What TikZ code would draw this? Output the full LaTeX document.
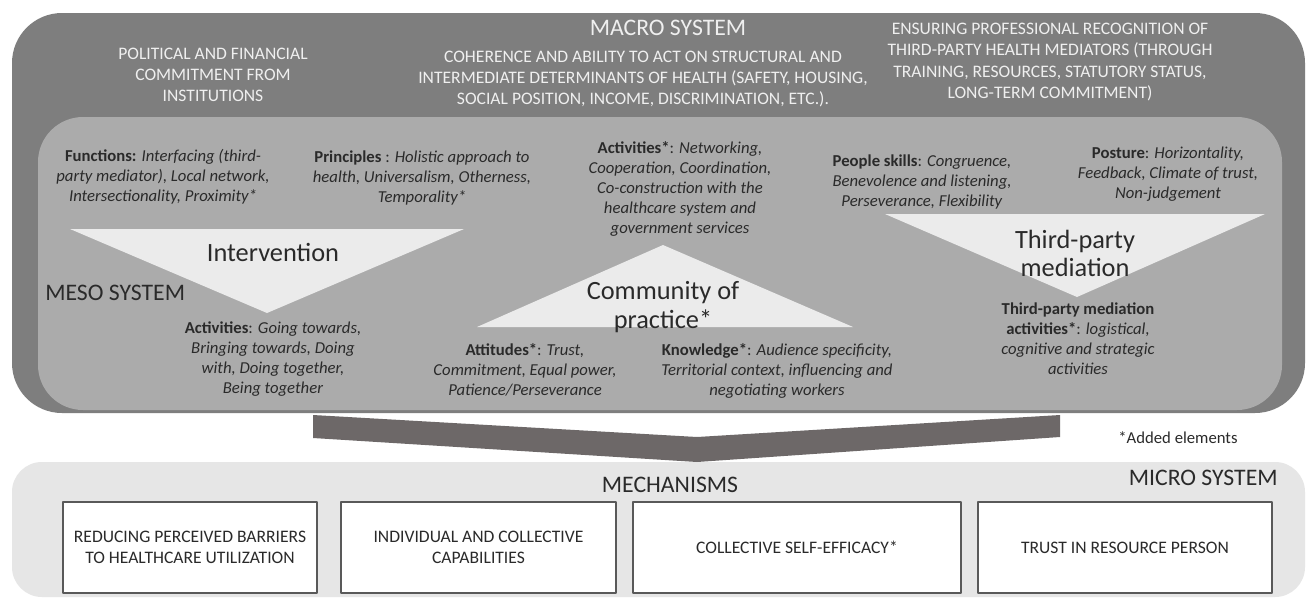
\documentclass[tikz,border=0pt]{standalone}
\usepackage{fontspec}
\setmainfont{Carlito}
\definecolor{macrogray}{HTML}{7E7E7E}
\definecolor{mesogray}{HTML}{ABABAB}
\definecolor{microgray}{HTML}{E6E6E6}
\definecolor{trigray}{HTML}{EBEBEB}
\definecolor{arrowgray}{HTML}{6D6868}
\definecolor{macrotxt}{HTML}{EFEFEF}
\definecolor{mesotxt}{HTML}{2A2A2A}
\definecolor{boxline}{HTML}{595959}
\tikzset{
mac/.style={text=macrotxt,font=\fontsize{10}{12}\selectfont,align=center},
mes/.style={text=mesotxt,font=\fontsize{9.5}{11.4}\selectfont,align=center},
big/.style={text=mesotxt,font=\fontsize{15}{16}\selectfont,align=center},
sys/.style={text=mesotxt,font=\fontsize{13.5}{15}\selectfont},
mech/.style={draw=boxline,line width=.9pt,fill=white,minimum height=1.82cm,text=mesotxt,font=\fontsize{10}{12}\selectfont,align=center}
}
\begin{document}
\begin{tikzpicture}[x=0.02cm,y=-0.02cm,line cap=round,line join=round]
\useasboundingbox[fill=white] (0,0) rectangle (1309,599);
% the three systems
\fill[macrogray,rounded corners=1cm] (12,13) rectangle (1305,413);
\fill[mesogray,rounded corners=.9cm] (38,117) rectangle (1282,410);
\fill[microgray,rounded corners=.6cm] (12,462) rectangle (1305,597);
% big arrow down to the micro system
\fill[arrowgray] (313,415)--(697,437)--(1060,415)--(1060,437)--(697,462)--(313,438)--cycle;
% triangles
\fill[trigray] (70,229)--(464,229)--(267,313)--cycle;
\fill[trigray] (663,245)--(853,327)--(477,327)--cycle;
\fill[trigray] (885,214)--(1265,214)--(1077,297)--cycle;

\path(668,28)node[sys,text=macrotxt](macro){MACRO SYSTEM}
(213,75)node[mac](pol){POLITICAL AND FINANCIAL\\COMMITMENT FROM\\INSTITUTIONS}
(643,79)node[mac](coh){COHERENCE AND ABILITY TO ACT ON STRUCTURAL AND\\INTERMEDIATE DETERMINANTS OF HEALTH (SAFETY, HOUSING,\\SOCIAL POSITION, INCOME, DISCRIMINATION, ETC.).}
(1050,62)node[mac](ens){ENSURING PROFESSIONAL RECOGNITION OF\\THIRD-PARTY HEALTH MEDIATORS (THROUGH\\TRAINING, RESOURCES, STATUTORY STATUS,\\LONG-TERM COMMITMENT)}
;
\path(163,177)node[mes](fun){\textbf{Functions:} \textit{Interfacing (third-}\\\textit{party mediator), Local network,}\\\textit{Intersectionality, Proximity*}}
(422,178)node[mes](pri){\textbf{Principles} : \textit{Holistic approach to}\\\textit{health, Universalism, Otherness,}\\\textit{Temporality*}}
(680,189)node[mes](act){\textbf{Activities*}: \textit{Networking,}\\\textit{Cooperation, Coordination,}\\\textit{Co-construction with the}\\\textit{healthcare system and}\\\textit{government services}}
(922,182)node[mes](ppl){\textbf{People skills}: \textit{Congruence,}\\\textit{Benevolence and listening,}\\\textit{Perseverance, Flexibility}}
(1168,174)node[mes](pos){\textbf{Posture}: \textit{Horizontality,}\\\textit{Feedback, Climate of trust,}\\\textit{Non-judgement}}
(273,252)node[big](int){Intervention}
(45,293)node[sys,anchor=west,inner sep=0](meso){MESO SYSTEM}
(273,359)node[mes](go){\textbf{Activities}: \textit{Going towards,}\\\textit{Bringing towards, Doing}\\\textit{with, Doing together,}\\\textit{Being together}}
(663,307)node[big](cop){Community of\\practice*}
(525,370)node[mes](att){\textbf{Attitudes*}: \textit{Trust,}\\\textit{Commitment, Equal power,}\\\textit{Patience/Perseverance}}
(777,371)node[mes](kno){\textbf{Knowledge*}: \textit{Audience specificity,}\\\textit{Territorial context, influencing and}\\\textit{negotiating workers}}
(1075,253)node[big](tpm){Third-party\\mediation}
(1078,339)node[mes](tpa){\textbf{Third-party mediation}\\\textbf{activities*}: \textit{logistical,}\\\textit{cognitive and strategic}\\\textit{activities}}
;
\path(1178,438)node[text=mesotxt,font=\fontsize{9.5}{11}\selectfont](add){*Added elements}
(670,485)node[sys](mech){MECHANISMS}
(1278,478)node[sys,anchor=east,inner sep=0](micro){MICRO SYSTEM}
(190,547.5)node[mech,minimum width=5.08cm](m1){REDUCING PERCEIVED BARRIERS\\TO HEALTHCARE UTILIZATION}
(478.5,547.5)node[mech,minimum width=5.5cm](m2){INDIVIDUAL AND COLLECTIVE\\CAPABILITIES}
(797,547.5)node[mech,minimum width=6.56cm](m3){COLLECTIVE SELF-EFFICACY*}
(1125,547.5)node[mech,minimum width=5.88cm](m4){TRUST IN RESOURCE PERSON}
;
\end{tikzpicture}
\end{document}
